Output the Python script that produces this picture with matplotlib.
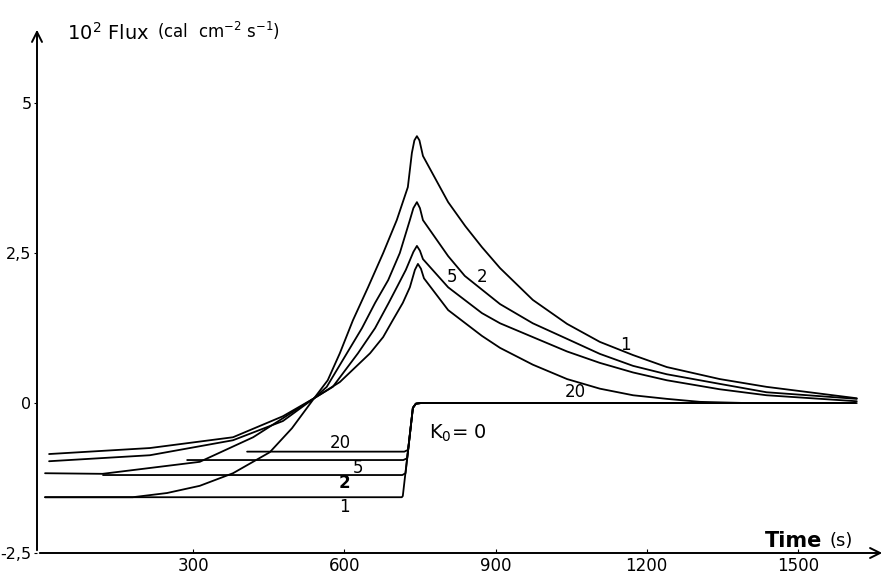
import matplotlib.pyplot as plt

# Flux curves for K0 = 1, 2, 5, 20 (time in s, flux in 1e-2 cal cm-2 s-1)
t_k1 = [6, 180, 248, 313, 379, 452, 496, 540, 567, 591, 617, 647, 677, 704, 726, 734, 739, 744, 749, 756,
        806, 840, 873, 909, 974, 1042, 1107, 1173, 1240, 1345, 1438, 1617]
flux_k1 = [-1.57, -1.57, -1.5, -1.38, -1.17, -0.82, -0.42, 0.08, 0.38, 0.83, 1.38, 1.93, 2.5, 3.05, 3.6, 4.17, 4.38, 4.45, 4.38, 4.12,
           3.35, 2.95, 2.6, 2.25, 1.72, 1.32, 1.02, 0.8, 0.6, 0.4, 0.27, 0.08]

t_k2 = [6, 120, 313, 419, 540, 565, 605, 635, 661, 687, 710, 730, 737, 744, 750, 756,
        806, 839, 909, 974, 1042, 1107, 1173, 1240, 1345, 1438, 1617]
flux_k2 = [-1.17, -1.18, -0.98, -0.57, 0.08, 0.27, 0.83, 1.25, 1.67, 2.05, 2.5, 3.05, 3.25, 3.35, 3.25, 3.05,
           2.45, 2.12, 1.65, 1.33, 1.07, 0.82, 0.62, 0.48, 0.32, 0.18, 0.07]

t_k5 = [14, 214, 379, 478, 540, 577, 627, 661, 688, 706, 722, 737, 744, 750, 756,
        806, 873, 909, 974, 1042, 1107, 1173, 1240, 1345, 1438, 1617]
flux_k5 = [-0.97, -0.87, -0.62, -0.3, 0.08, 0.27, 0.83, 1.25, 1.67, 1.96, 2.22, 2.52, 2.62, 2.54, 2.4,
           1.93, 1.5, 1.33, 1.1, 0.86, 0.67, 0.51, 0.38, 0.23, 0.13, 0.03]

t_k20 = [14, 214, 379, 478, 540, 591, 651, 677, 696, 716, 730, 740, 746, 752, 758,
         806, 873, 909, 974, 1042, 1107, 1173, 1240, 1306, 1400, 1617]
flux_k20 = [-0.85, -0.75, -0.57, -0.22, 0.08, 0.35, 0.83, 1.1, 1.38, 1.67, 1.93, 2.22, 2.32, 2.24, 2.08,
            1.55, 1.12, 0.92, 0.64, 0.4, 0.24, 0.13, 0.07, 0.02, 0.0, 0.0]

# K0 = 0 : flat levels stepping up to zero
t_s20 = [407, 719, 726.6, 736, 742, 752, 1613]
flux_s20 = [-0.81, -0.81, -0.78, -0.08, -0.01, 0, 0]
t_s5 = [288, 717, 724.7, 736, 742, 752, 1613]
flux_s5 = [-0.95, -0.95, -0.92, -0.08, -0.01, 0, 0]
t_s2 = [121, 715, 721.4, 736, 742, 752, 1613]
flux_s2 = [-1.2, -1.2, -1.17, -0.08, -0.01, 0, 0]
t_s1 = [6, 714, 716, 736, 742, 752, 1613]
flux_s1 = [-1.57, -1.57, -1.55, -0.08, -0.01, 0, 0]

xticks = [300, 600, 900, 1200, 1500]
yticks = [-2.5, 0, 2.5, 5]
ytick_labels = ['-2,5', '0', '2,5', '5']

fig = plt.figure(figsize=(8.88, 5.77), dpi=100)
ax = fig.add_axes([37 / 888, 1 - 553 / 577, 848 / 888, 526 / 577])

for t, f in [(t_k1, flux_k1), (t_k2, flux_k2), (t_k5, flux_k5), (t_k20, flux_k20),
             (t_s20, flux_s20), (t_s5, flux_s5), (t_s2, flux_s2), (t_s1, flux_s1)]:
    ax.plot(t, f, color='black', lw=1.3, solid_joinstyle='round', solid_capstyle='round')

ax.set_xlim(-10, 1673)
ax.set_ylim(-2.5, 6.27)

for s in ax.spines.values():
    s.set_visible(False)
# axes drawn as arrows
ax.annotate('', xy=(1, 0), xycoords='axes fraction', xytext=(0, 0),
            arrowprops=dict(arrowstyle='->', lw=1.4, color='black', mutation_scale=18))
ax.annotate('', xy=(0, 1), xycoords='axes fraction', xytext=(0, 0),
            arrowprops=dict(arrowstyle='->', lw=1.4, color='black', mutation_scale=18))

ax.set_xticks(xticks)
ax.set_xticklabels([str(v) for v in xticks], fontsize=12)
ax.set_yticks(yticks)
ax.set_yticklabels(ytick_labels, fontsize=11.5)
ax.tick_params(axis='x', direction='in', length=3, pad=3)
ax.tick_params(axis='y', direction='out', length=2, pad=2)

# curve labels
ax.text(1157, 0.97, '1', fontsize=12, ha='center', va='center')
ax.text(873, 2.1, '2', fontsize=12, ha='center', va='center')
ax.text(813, 2.1, '5', fontsize=12, ha='center', va='center')
ax.text(1058, 0.18, '20', fontsize=12, ha='center', va='center')
ax.text(591, -0.67, '20', fontsize=12, ha='center', va='center')
ax.text(627, -1.08, '5', fontsize=12, ha='center', va='center')
ax.text(601, -1.33, '2', fontsize=12, ha='center', va='center', fontweight='bold')
ax.text(601, -1.73, '1', fontsize=12, ha='center', va='center')
ax.text(768, -0.5, 'K$_0$= 0', fontsize=14, ha='left', va='center')

fig.text(67 / 888, 1 - 33 / 577, '10$^2$ Flux', fontsize=14, va='center')
fig.text(157 / 888, 1 - 31 / 577, '(cal  cm$^{-2}$ s$^{-1}$)', fontsize=12, va='center')
fig.text(765 / 888, 1 - 541 / 577, 'Time', fontsize=15, fontweight='bold', va='center')
fig.text(829 / 888, 1 - 541 / 577, '(s)', fontsize=13, va='center')

fig.savefig('out.png', dpi=100)
